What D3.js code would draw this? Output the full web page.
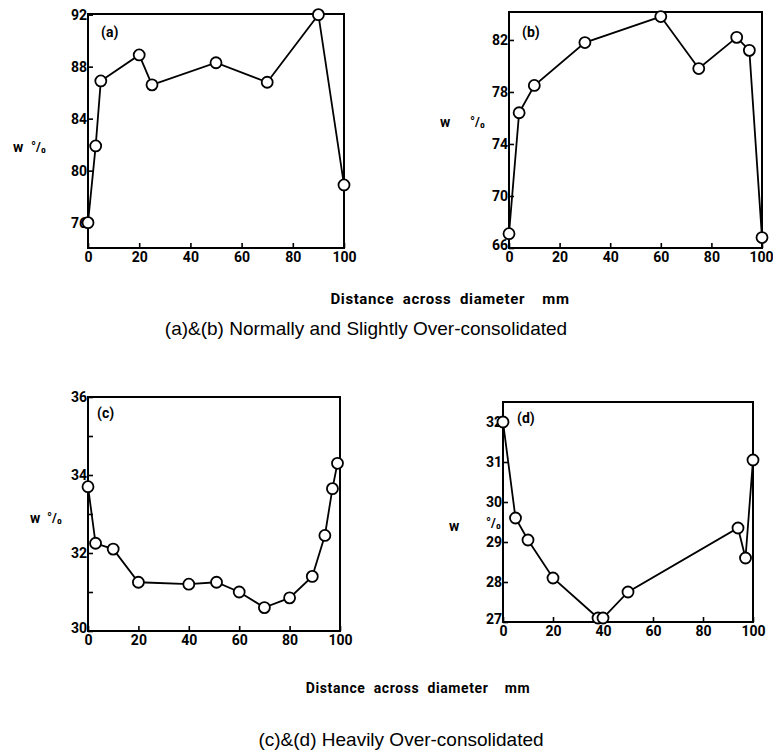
<!DOCTYPE html>
<html>
<head>
<meta charset="utf-8">
<script src="https://cdn.jsdelivr.net/npm/d3@7"></script>
<style>
  body { margin: 0; background: #fff; }
  svg { display: block; }
  .cond { font-family: Roboto, "Liberation Sans", sans-serif; font-weight: bold; }
</style>
</head>
<body>
<svg id="drawing_region"></svg>
<script>
// values (distance mm, water content %)
const xTicks = [0, 20, 40, 60, 80, 100];

const aDist = [0, 3, 5, 20, 25, 50, 70, 90, 100];
const aW    = [76, 81.9, 86.9, 88.9, 86.6, 88.3, 86.8, 92, 78.9];
const aTicks = [76, 80, 84, 88, 92];

const bDist = [0, 4, 10, 30, 60, 75, 90, 95, 100];
const bW    = [67.1, 76.4, 78.5, 81.8, 83.8, 79.8, 82.2, 81.2, 66.8];
const bTicks = [66, 70, 74, 78, 82];

const cDist = [0, 3, 10, 20, 40, 51, 60, 70, 80, 89, 94, 97, 99];
const cW    = [33.7, 32.25, 32.1, 31.25, 31.2, 31.25, 31.0, 30.6, 30.85, 31.4, 32.45, 33.65, 34.3];
const cTicks = [30, 31, 32, 33, 34, 35, 36];

const dDist = [0, 5, 10, 20, 38, 40, 50, 94, 97, 100];
const dW    = [32, 29.6, 29.05, 28.1, 27.1, 27.1, 27.75, 29.35, 28.6, 31.05];
const dTicks = [27, 28, 29, 30, 31, 32];

const svg = d3.select('#drawing_region')
    .attr('width', 773)
    .attr('height', 755);

function panel(cfg) {
    const xscale = d3.scaleLinear().domain([0, 100]).range([cfg.left, cfg.right]);
    const yscale = d3.scaleLinear().domain(cfg.ydomain).range([cfg.bottom, cfg.top]);

    const g = svg.append('g');

    // frame
    g.append('rect')
        .attr('x', cfg.left).attr('y', cfg.top)
        .attr('width', cfg.right - cfg.left)
        .attr('height', cfg.bottom - cfg.top)
        .attr('fill', 'none')
        .attr('stroke', '#000')
        .attr('stroke-width', 2);

    const yaxis = d3.axisLeft(yscale)
        .tickValues(cfg.yticks)
        .tickSize(-5)
        .tickPadding(1)
        .tickFormat(d => cfg.ylabelled.includes(d) ? d : '');

    const xaxis = d3.axisBottom(xscale)
        .tickValues(xTicks)
        .tickSize(-5)
        .tickPadding(4);

    const yg = g.append('g')
        .attr('transform', `translate(${cfg.left},0)`)
        .call(yaxis);
    const xg = g.append('g')
        .attr('transform', `translate(0,${cfg.bottom})`)
        .call(xaxis);

    [yg, xg].forEach(a => {
        a.attr('font-family', null).attr('font-size', null);
        a.select('.domain').remove();
        a.selectAll('line').attr('stroke', '#000').attr('stroke-width', 1.6);
        a.selectAll('text')
            .attr('class', 'cond')
            .attr('fill', '#000')
            .attr('font-size', '14px');
    });

    // lowest y label sits just above the corner, last x label kept inside the page
    yg.selectAll('.tick text')
        .filter(d => d === cfg.ydomain[0])
        .attr('dy', '0.1em');
    xg.selectAll('.tick text')
        .filter(d => d === 100)
        .attr('dx', cfg.lastShift || 0);

    // series
    const pts = cfg.dist.map((d, i) => ({x: d, y: cfg.w[i]}));
    const line = d3.line().x(d => xscale(d.x)).y(d => yscale(d.y));

    g.append('path')
        .datum(pts)
        .attr('d', line)
        .attr('fill', 'none')
        .attr('stroke', '#000')
        .attr('stroke-width', 1.8);

    g.selectAll('circle.pt').data(pts).enter()
        .append('circle')
        .attr('class', 'pt')
        .attr('cx', d => xscale(d.x))
        .attr('cy', d => yscale(d.y))
        .attr('r', 5.5)
        .attr('fill', '#fff')
        .attr('stroke', '#000')
        .attr('stroke-width', 1.8);

    // panel tag
    g.append('text')
        .attr('class', 'cond')
        .attr('x', cfg.tag[0]).attr('y', cfg.tag[1])
        .attr('font-size', '14px')
        .text(cfg.name);

    // y label
    g.append('text')
        .attr('class', 'cond')
        .attr('x', cfg.wpos[0]).attr('y', cfg.wpos[1])
        .attr('font-size', '14px')
        .text('w');
    g.append('text')
        .attr('class', 'cond')
        .attr('x', cfg.ppos[0]).attr('y', cfg.ppos[1])
        .attr('font-size', '13px')
        .text('°/₀');
}

panel({
    name: '(a)', dist: aDist, w: aW,
    left: 88, right: 344, top: 14, bottom: 248,
    ydomain: [74.05, 92.05], yticks: aTicks, ylabelled: aTicks,
    tag: [101, 37], wpos: [13, 152], ppos: [31, 151]
});

panel({
    name: '(b)', dist: bDist, w: bW,
    left: 509, right: 762, top: 12, bottom: 248,
    ydomain: [66, 84.15], yticks: bTicks, ylabelled: bTicks,
    tag: [522, 37], wpos: [440, 127], ppos: [470, 126], lastShift: -1
});

panel({
    name: '(c)', dist: cDist, w: cW,
    left: 88, right: 340, top: 397, bottom: 631,
    ydomain: [30, 36], yticks: cTicks, ylabelled: [30, 32, 34, 36],
    tag: [97, 418], wpos: [30, 523], ppos: [47, 522]
});

panel({
    name: '(d)', dist: dDist, w: dW,
    left: 503, right: 753, top: 402, bottom: 622,
    ydomain: [27, 32.5], yticks: dTicks, ylabelled: dTicks,
    tag: [517, 423], wpos: [449, 531], ppos: [486, 527]
});

// shared x labels and captions
svg.append('text')
    .attr('class', 'cond')
    .attr('x', 450).attr('y', 304)
    .attr('text-anchor', 'middle')
    .attr('font-size', '15px')
    .attr('letter-spacing', '0.6px')
    .attr('xml:space', 'preserve')
    .text('Distance  across  diameter    mm');

svg.append('text')
    .attr('class', 'cond')
    .attr('x', 418).attr('y', 693)
    .attr('text-anchor', 'middle')
    .attr('font-size', '14px')
    .attr('letter-spacing', '0.6px')
    .attr('xml:space', 'preserve')
    .text('Distance  across  diameter    mm');

svg.append('text')
    .attr('x', 366).attr('y', 335)
    .attr('text-anchor', 'middle')
    .attr('font-family', '"Liberation Sans", Arial, sans-serif')
    .attr('font-size', '19px')
    .text('(a)&(b) Normally and Slightly Over-consolidated');

svg.append('text')
    .attr('x', 401).attr('y', 746)
    .attr('text-anchor', 'middle')
    .attr('font-family', '"Liberation Sans", Arial, sans-serif')
    .attr('font-size', '19px')
    .text('(c)&(d) Heavily Over-consolidated');
</script>
</body>
</html>
